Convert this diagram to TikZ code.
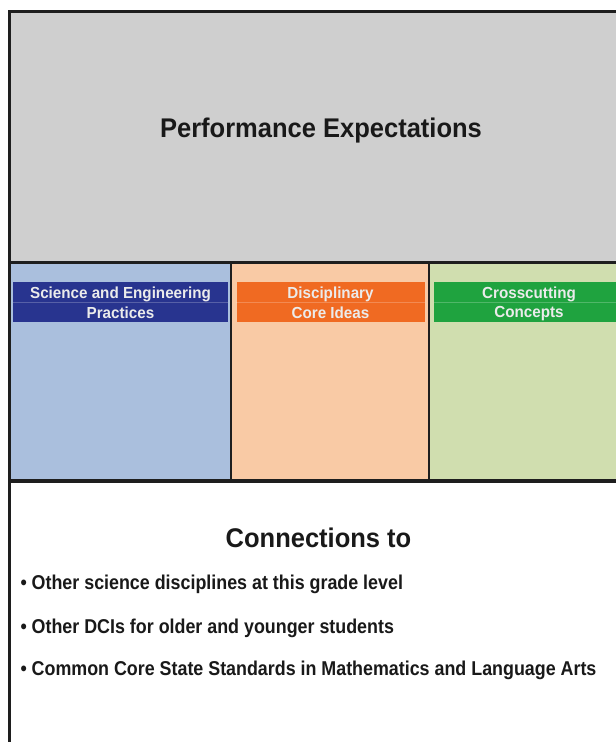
\documentclass[tikz,border=0pt]{standalone}
\usepackage{fontspec}
\setmainfont{Liberation Sans}
\usepackage{graphicx}
\definecolor{pegray}{HTML}{CFCFCF}
\definecolor{paneblue}{HTML}{AABFDD}
\definecolor{paneorange}{HTML}{F9CAA5}
\definecolor{panegreen}{HTML}{D0DEAF}
\definecolor{bblue}{HTML}{28348F}
\definecolor{borange}{HTML}{F06A22}
\definecolor{bgreen}{HTML}{1FA33F}
\definecolor{frame}{HTML}{1E1E1E}
\newcommand{\bline}[1]{\rule[-2pt]{0pt}{17pt}\scalebox{.95}[1]{#1}}
\tikzset{
  banner/.style={inner sep=0pt, minimum height=40pt, text=white!92!black, align=center,
    font=\bfseries\fontsize{16}{18}\selectfont},
  rowline/.style={white, opacity=.22, line width=.8pt},
  heading/.style={anchor=base, font=\bfseries\fontsize{27}{30}\selectfont, text=black!90},
  bullet/.style={anchor=base west, font=\bfseries\fontsize{20}{22}\selectfont, text=black!90},
  frameline/.style={draw=frame}
}
\begin{document}
\begin{tikzpicture}[x=1pt,y=-1pt]
\useasboundingbox (0,0) rectangle (616,742);
\fill[white] (0,0) rectangle (616,742);
% panes
\fill[pegray] (9.5,11) rectangle (616,262);
\fill[paneblue] (9.5,262) rectangle (231,481);
\fill[paneorange] (231,262) rectangle (429,481);
\fill[panegreen] (429,262) rectangle (616,481);
% banners
\node[banner, fill=bblue, minimum width=215pt] (sep) at (120.5,302) {\bline{Science and Engineering}\\\bline{Practices}};
\node[banner, fill=borange, minimum width=188pt] (dci) at (330.5,302) {\bline{Disciplinary}\\\bline{Core Ideas}};
\node[banner, fill=bgreen, minimum width=190pt] (cc) at (529,302) {\bline{Crosscutting}\\\bline{Concepts}};
\draw[rowline] (sep.west) -- (sep.east);
\draw[rowline] (dci.west) -- (dci.east);
\draw[rowline] (cc.west) -- (cc.east);
% frame lines
\draw[frameline, line width=3pt] (9.5,742) -- (9.5,11) -- (616,11);
\draw[frameline, line width=3pt] (9.5,262) -- (616,262);
\draw[frameline, line width=4.5pt] (9.5,481) -- (616,481);
\draw[frameline, line width=2.5pt] (231,262) -- (231,481);
\draw[frameline, line width=2.5pt] (429,262) -- (429,481);
% texts
\node[heading] (pe) at (321,137) {\scalebox{.945}[1]{Performance Expectations}};
\node[heading] (conn) at (318.5,547) {\scalebox{.945}[1]{Connections to}};
\node[bullet] (b1) at (17,589) {\scalebox{.893}[1]{• Other science disciplines at this grade level}};
\node[bullet] (b2) at (17,633) {\scalebox{.893}[1]{• Other DCIs for older and younger students}};
\node[bullet] (b3) at (17,675) {\scalebox{.893}[1]{• Common Core State Standards in Mathematics and Language Arts}};
\end{tikzpicture}
\end{document}
